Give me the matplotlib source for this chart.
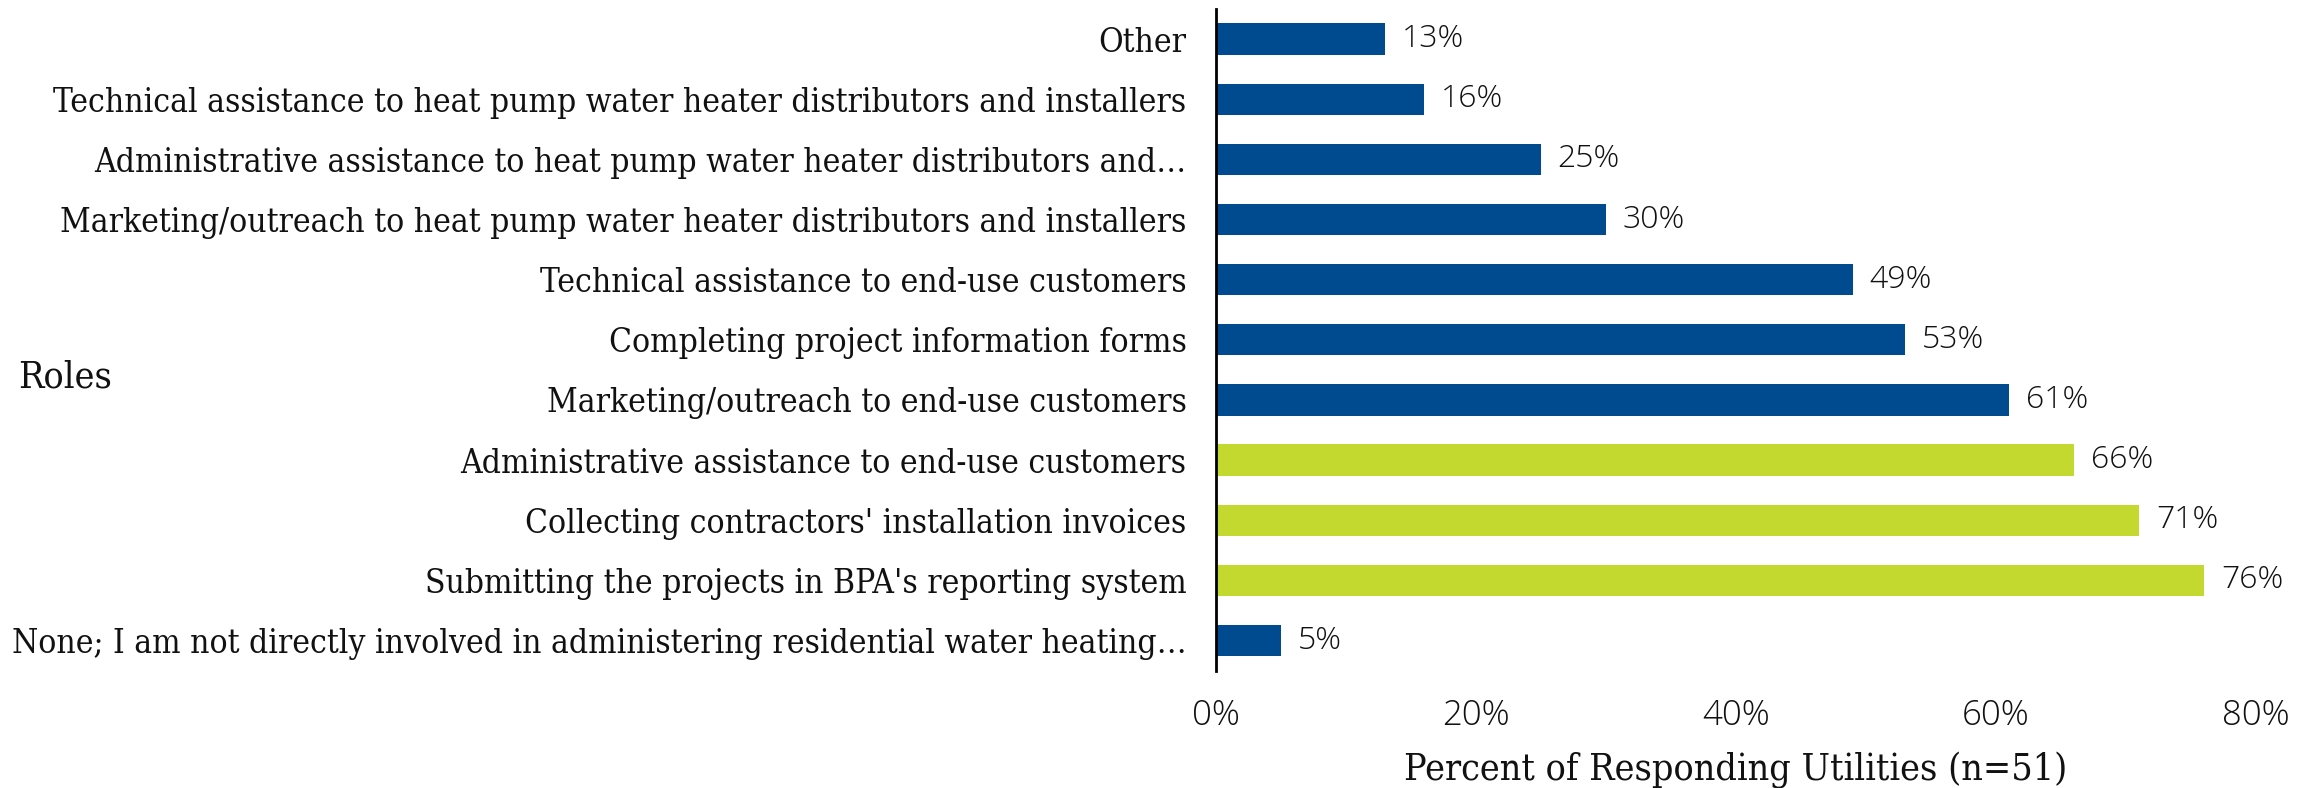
import matplotlib
matplotlib.use("Agg")
import matplotlib.pyplot as plt
from matplotlib.ticker import FuncFormatter

# categories from top to bottom
roles = [
    "Other",
    "Technical assistance to heat pump water heater distributors and installers",
    "Administrative assistance to heat pump water heater distributors and\u2026",
    "Marketing/outreach to heat pump water heater distributors and installers",
    "Technical assistance to end-use customers",
    "Completing project information forms",
    "Marketing/outreach to end-use customers",
    "Administrative assistance to end-use customers",
    "Collecting contractors' installation invoices",
    "Submitting the projects in BPA's reporting system",
    "None; I am not directly involved in administering residential water heating\u2026",
]
percents = [13, 16, 25, 30, 49, 53, 61, 66, 71, 76, 5]
highlight = [False, False, False, False, False, False, False, True, True, True, False]
x_ticks = [0, 20, 40, 60, 80]

blue = '#004A8F'
green = '#C4D930'
text_color = '#111111'
serif = ['DejaVu Serif']
sans = ['Open Sans']

fig = plt.figure(figsize=(23.13, 7.88), dpi=100)
ax = fig.add_axes([0.5256, 0.1489, 0.4498, 0.8397])

ypos = list(range(len(roles)))
colors = [green if h else blue for h in highlight]
ax.barh(ypos, percents, height=0.52, color=colors)

# value labels next to each bar
for y, v in zip(ypos, percents):
    ax.text(v + 1.3, y, f"{v}%", va='center', ha='left', fontsize=23,
            family=sans, fontweight='light', color=text_color)

ax.set_ylim(len(roles) - 0.5, -0.5)
ax.set_xlim(0, 80)
ax.set_yticks(ypos)
ax.set_yticklabels(roles, fontsize=24, family=serif, fontstretch='condensed',
                   color=text_color)
ax.set_xticks(x_ticks)
ax.xaxis.set_major_formatter(FuncFormatter(lambda v, p: f"{int(v)}%"))
for lbl in ax.get_xticklabels():
    lbl.set_fontsize(25)
    lbl.set_family(sans)
    lbl.set_fontweight('light')
    lbl.set_color(text_color)

ax.tick_params(axis='y', length=0, pad=21)
ax.tick_params(axis='x', length=0, pad=20)

for s in ['top', 'right', 'bottom']:
    ax.spines[s].set_visible(False)
ax.spines['left'].set_linewidth(2)
ax.spines['left'].set_color('black')

ax.set_xlabel("Percent of Responding Utilities (n=51)", fontsize=27,
              family=serif, fontstretch='condensed', labelpad=14, color=text_color)
fig.text(0.0078, 1 - 377 / 788, "Roles", fontsize=27, family=serif,
         fontstretch='condensed', va='center', ha='left', color=text_color)

fig.savefig("out.png", dpi=100, facecolor='white')
